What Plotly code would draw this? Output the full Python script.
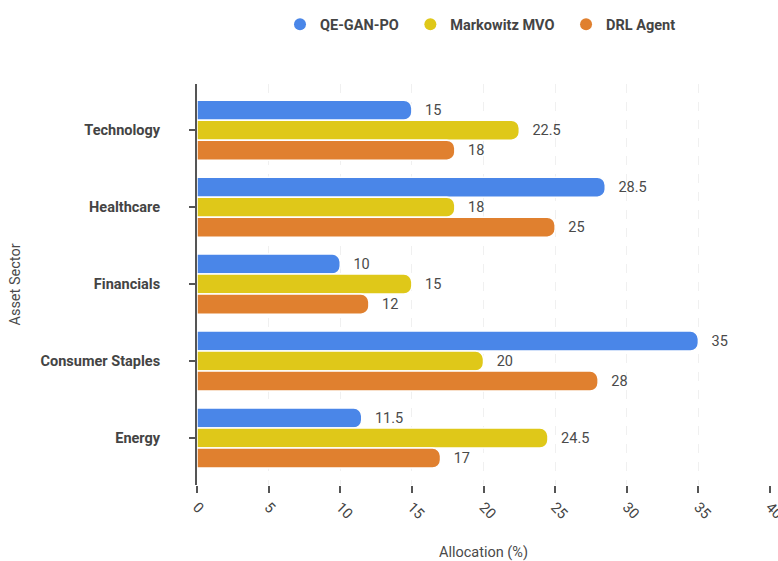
import plotly.graph_objects as go

sectors = ["Technology", "Healthcare", "Financials", "Consumer Staples", "Energy"]
series_names = ["QE-GAN-PO", "Markowitz MVO", "DRL Agent"]
qe_gan_po = [15, 28.5, 10, 35, 11.5]
markowitz = [22.5, 18, 15, 20, 24.5]
drl_agent = [18, 25, 12, 28, 17]
colors = ["#4a86e8", "#dfc819", "#e0802f"]
x_ticks = [0, 5, 10, 15, 20, 25, 30, 35, 40]

font_family = "Roboto, Arial, sans-serif"
NB = "\u00a0"
TS = "\u2009"
fig = go.Figure()
for name, vals, col in zip(series_names, [qe_gan_po, markowitz, drl_agent], colors):
    fig.add_trace(go.Bar(
        y=sectors, x=vals, orientation="h", name=name,
        marker=dict(color=col, line=dict(color="white", width=1.5)),
        text=[f"{NB*2}{TS}{v:g}" for v in vals], textposition="outside",
        textfont=dict(size=14.5, color="#4a4a4a", family=font_family),
        cliponaxis=False, showlegend=False,
    ))
    fig.add_trace(go.Scatter(
        x=[None], y=[None], mode="markers", name=name + NB + TS,
        marker=dict(color=col, size=16, symbol="circle"),
    ))

fig.update_layout(
    width=778, height=561,
    margin=dict(l=197, r=8, t=84, b=76),
    plot_bgcolor="white", paper_bgcolor="white",
    barmode="group", bargap=0.22, bargroupgap=0.0,
    barcornerradius=8,
    font=dict(family=font_family, size=14.5, color="#444"),
    legend=dict(orientation="h", x=0.5, xanchor="center", y=0.985, yanchor="top",
                yref="container", font=dict(size=14.5, color="#444", weight="bold"),
                itemsizing="constant", itemwidth=30),
)
fig.update_xaxes(
    range=[0, 40], tickvals=x_ticks, tickangle=45, automargin=False,
    showgrid=True, gridcolor="#f0f0f0", griddash="dash", gridwidth=1,
    zeroline=False, showline=False,
    ticks="outside", ticklen=7, tickwidth=2, tickcolor="#555",
    ticklabeloverflow="allow",
    tickfont=dict(size=14.5, color="#444"),
    title=dict(text="Allocation (%)", font=dict(size=14.5, color="#4a4a4a"), standoff=32),
)
fig.update_yaxes(
    categoryorder="array", categoryarray=sectors,
    range=[4.61, -0.6], automargin=False,
    showline=True, linecolor="#555", linewidth=2,
    ticks="outside", ticklen=6, tickwidth=2, tickcolor="#555",
    ticklabelstandoff=26,
    tickfont=dict(size=14.5, color="#444", weight="bold"),
    title=dict(text="Asset Sector", font=dict(size=14.5, color="#4a4a4a"), standoff=16),
    showgrid=False,
)
fig.write_html("out.html")
